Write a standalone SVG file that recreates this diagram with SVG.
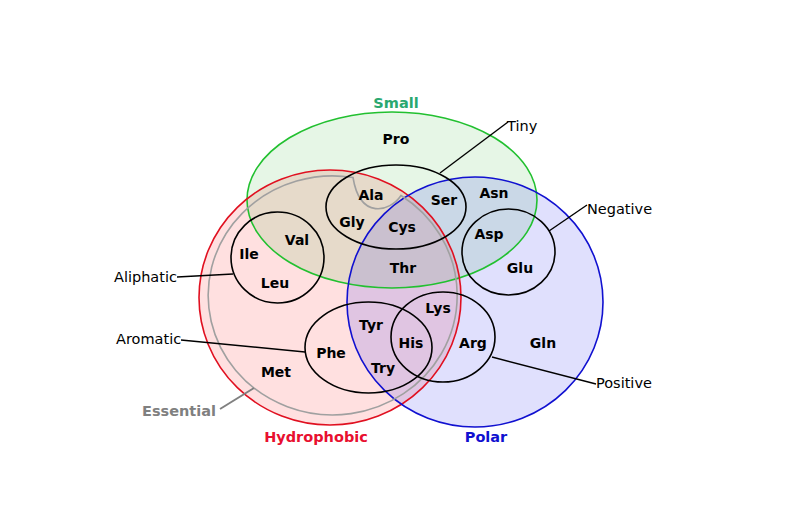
<svg xmlns="http://www.w3.org/2000/svg" width="800" height="519" viewBox="0 0 800 519">
<style>
.aa{font-family:"DejaVu Sans","Liberation Sans",sans-serif;font-weight:bold;font-size:14px;fill:#000;text-anchor:middle}
.lbl{font-family:"DejaVu Sans","Liberation Sans",sans-serif;font-size:14.5px;fill:#000}
.set{font-family:"DejaVu Sans","Liberation Sans",sans-serif;font-weight:bold;font-size:14.5px;text-anchor:middle}
.sub{fill:none;stroke:#000;stroke-width:1.6}
.lead{stroke:#000;stroke-width:1.4;fill:none}
</style>
<rect width="800" height="519" fill="#fff"/>
<g id="fills">
<ellipse cx="330" cy="297.5" rx="131" ry="127.5" fill="#ff1010" fill-opacity="0.13"/>
<ellipse cx="392" cy="200" rx="145" ry="88" fill="#18b018" fill-opacity="0.11"/>
<ellipse cx="475" cy="302" rx="128" ry="125" fill="#2020f0" fill-opacity="0.14"/>
</g>
<g id="small"><ellipse cx="392" cy="200" rx="145" ry="88" fill="none" stroke="#22c030" stroke-width="1.6"/><text class="set" x="396" y="108" fill="#2aa870">Small</text></g>
<g id="hydrophobic"><ellipse cx="330" cy="297.5" rx="131" ry="127.5" fill="none" stroke="#e01020" stroke-width="1.6"/><text class="set" x="316" y="442" fill="#e81030">Hydrophobic</text></g>
<g id="polar"><ellipse cx="475" cy="302" rx="128" ry="125" fill="none" stroke="#1010d0" stroke-width="1.6"/><text class="set" x="486" y="442" fill="#1010d0">Polar</text></g>
<g id="essential"><path d="M353,177.5 A124.5,119.5 0 1 0 401,195.5 C390,212 360,220 353,177.5 Z" fill="none" stroke="#a0a0a0" stroke-width="1.6"/><text class="set" x="179" y="416" fill="#808080">Essential</text></g>
<g id="tiny"><ellipse class="sub" cx="396" cy="207" rx="70" ry="42"/><text class="lbl" x="507" y="131">Tiny</text></g>
<g id="aliphatic"><ellipse class="sub" cx="277.5" cy="257.5" rx="46.5" ry="45.5"/><text class="lbl" x="114" y="282">Aliphatic</text></g>
<g id="negative"><ellipse class="sub" cx="508.5" cy="252" rx="46.5" ry="43"/><text class="lbl" x="587" y="214">Negative</text></g>
<g id="aromatic"><ellipse class="sub" cx="368.5" cy="347.5" rx="63.5" ry="45.5"/><text class="lbl" x="116" y="344">Aromatic</text></g>
<g id="positive"><ellipse class="sub" cx="443" cy="337" rx="52" ry="45"/><text class="lbl" x="596" y="388">Positive</text></g>
<g id="connectors">
<line class="lead" x1="508" y1="122" x2="440" y2="173"/>
<line class="lead" x1="587" y1="205" x2="549" y2="231"/>
<line class="lead" x1="177" y1="277" x2="233" y2="274"/>
<line class="lead" x1="181" y1="340" x2="305" y2="352"/>
<line class="lead" x1="596" y1="384" x2="492" y2="357"/>
<line x1="220" y1="409" x2="254" y2="388" stroke="#808080" stroke-width="2"/>
</g>
<g id="acids">
<text class="aa" x="396" y="144">Pro</text>
<text class="aa" x="371" y="200">Ala</text>
<text class="aa" x="352" y="227">Gly</text>
<text class="aa" x="444" y="205">Ser</text>
<text class="aa" x="402" y="232">Cys</text>
<text class="aa" x="494" y="198">Asn</text>
<text class="aa" x="489" y="239">Asp</text>
<text class="aa" x="520" y="273">Glu</text>
<text class="aa" x="297" y="245">Val</text>
<text class="aa" x="249" y="259">Ile</text>
<text class="aa" x="275" y="288">Leu</text>
<text class="aa" x="403" y="273">Thr</text>
<text class="aa" x="371" y="330">Tyr</text>
<text class="aa" x="438" y="313">Lys</text>
<text class="aa" x="411" y="348">His</text>
<text class="aa" x="473" y="348">Arg</text>
<text class="aa" x="543" y="348">Gln</text>
<text class="aa" x="331" y="358">Phe</text>
<text class="aa" x="383" y="373">Try</text>
<text class="aa" x="276" y="377">Met</text>
</g>
</svg>
